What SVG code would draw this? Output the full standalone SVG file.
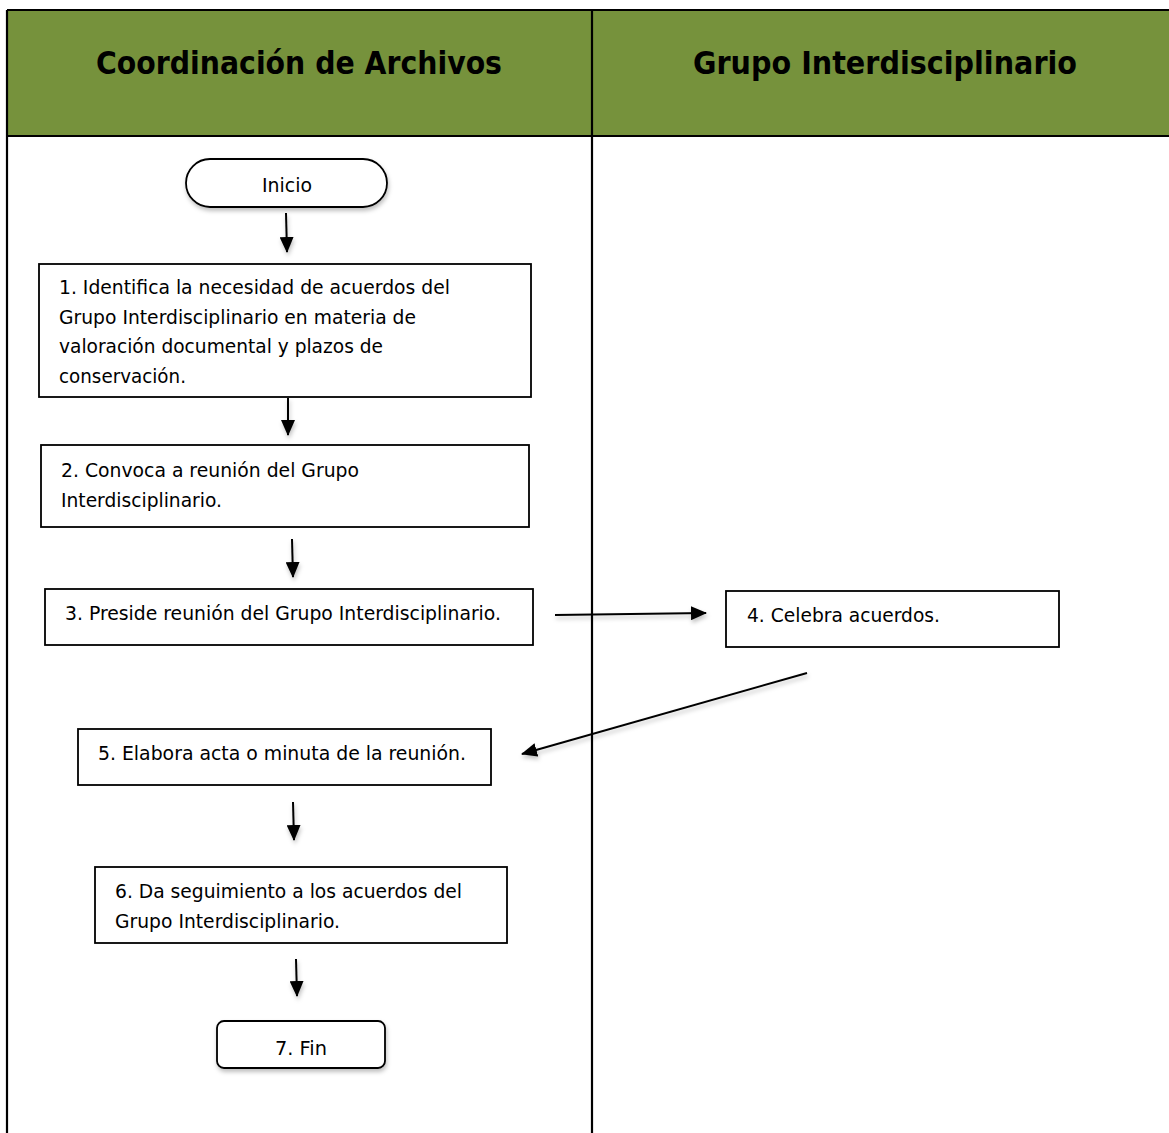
<svg xmlns="http://www.w3.org/2000/svg" width="1169" height="1133" viewBox="0 0 1169 1133">
  <defs>
    <style>
      .lane { fill: none; stroke: #000; stroke-width: 2.2; }
      .head { fill: #76923c; }
      .title { font-family: "DejaVu Sans", Verdana, sans-serif; font-weight: bold; font-size: 32px; fill: #000; }
      .box { fill: #fff; stroke: #000; stroke-width: 1.8; }
      .lbl { font-family: "DejaVu Sans", Verdana, sans-serif; font-size: 19px; fill: #000; }
      .flow { fill: none; stroke: #000; stroke-width: 2; marker-end: url(#tip); }
    </style>
    <marker id="tip" markerUnits="userSpaceOnUse" markerWidth="16" markerHeight="14" refX="15" refY="7" orient="auto">
      <path d="M0,0 L16,7 L0,14 Z" fill="#000"/>
    </marker>
    <filter id="shade" x="-10%" y="-10%" width="130%" height="140%">
      <feDropShadow dx="1" dy="3" stdDeviation="2" flood-color="#000" flood-opacity="0.25"/>
    </filter>
  </defs>

  <!-- swimlane table -->
  <g id="lanes">
    <rect class="head" x="7" y="10" width="1162" height="126"/>
    <line class="lane" x1="7" y1="10" x2="1169" y2="10"/>
    <line class="lane" x1="7" y1="136" x2="1169" y2="136"/>
    <line class="lane" x1="7" y1="10" x2="7" y2="1133"/>
    <line class="lane" x1="592" y1="10" x2="592" y2="1133"/>
    <text class="title" x="299" y="74" text-anchor="middle" textLength="406" lengthAdjust="spacingAndGlyphs">Coordinación de Archivos</text>
    <text class="title" x="885" y="74" text-anchor="middle" textLength="384" lengthAdjust="spacingAndGlyphs">Grupo Interdisciplinario</text>
  </g>

  <!-- connectors -->
  <g id="connectors" filter="url(#shade)">
    <line class="flow" x1="286" y1="213" x2="287" y2="252"/>
    <line class="flow" x1="288" y1="398" x2="288" y2="435"/>
    <line class="flow" x1="292" y1="539" x2="293" y2="577"/>
    <line class="flow" x1="555" y1="615" x2="706" y2="613"/>
    <line class="flow" x1="807" y1="673" x2="522" y2="754"/>
    <line class="flow" x1="293" y1="802" x2="294" y2="840"/>
    <line class="flow" x1="296" y1="959" x2="297" y2="996"/>
  </g>

  <g id="inicio">
    <rect class="box" x="186" y="159" width="201" height="48" rx="24" filter="url(#shade)"/>
    <text class="lbl" x="287" y="192" text-anchor="middle" textLength="50" lengthAdjust="spacingAndGlyphs">Inicio</text>
  </g>

  <g id="paso1">
    <rect class="box" x="39" y="264" width="492" height="133"/>
    <text class="lbl" x="59" y="294" textLength="391" lengthAdjust="spacingAndGlyphs">1. Identifica la necesidad de acuerdos del</text>
    <text class="lbl" x="59" y="324" textLength="357" lengthAdjust="spacingAndGlyphs">Grupo Interdisciplinario en materia de</text>
    <text class="lbl" x="59" y="353" textLength="324" lengthAdjust="spacingAndGlyphs">valoración documental y plazos de</text>
    <text class="lbl" x="59" y="383" textLength="127" lengthAdjust="spacingAndGlyphs">conservación.</text>
  </g>

  <g id="paso2">
    <rect class="box" x="41" y="445" width="488" height="82"/>
    <text class="lbl" x="61" y="477" textLength="298" lengthAdjust="spacingAndGlyphs">2. Convoca a reunión del Grupo</text>
    <text class="lbl" x="61" y="507" textLength="161" lengthAdjust="spacingAndGlyphs">Interdisciplinario.</text>
  </g>

  <g id="paso3">
    <rect class="box" x="45" y="589" width="488" height="56"/>
    <text class="lbl" x="65" y="620" textLength="436" lengthAdjust="spacingAndGlyphs">3. Preside reunión del Grupo Interdisciplinario.</text>
  </g>

  <g id="paso4">
    <rect class="box" x="726" y="591" width="333" height="56"/>
    <text class="lbl" x="747" y="622" textLength="193" lengthAdjust="spacingAndGlyphs">4. Celebra acuerdos.</text>
  </g>

  <g id="paso5">
    <rect class="box" x="78" y="729" width="413" height="56"/>
    <text class="lbl" x="98" y="760" textLength="368" lengthAdjust="spacingAndGlyphs">5. Elabora acta o minuta de la reunión.</text>
  </g>

  <g id="paso6">
    <rect class="box" x="95" y="867" width="412" height="76"/>
    <text class="lbl" x="115" y="898" textLength="347" lengthAdjust="spacingAndGlyphs">6. Da seguimiento a los acuerdos del</text>
    <text class="lbl" x="115" y="928" textLength="225" lengthAdjust="spacingAndGlyphs">Grupo Interdisciplinario.</text>
  </g>

  <g id="fin">
    <rect class="box" x="217" y="1021" width="168" height="47" rx="7" filter="url(#shade)"/>
    <text class="lbl" x="301" y="1055" text-anchor="middle" textLength="52" lengthAdjust="spacingAndGlyphs">7. Fin</text>
  </g>
</svg>
